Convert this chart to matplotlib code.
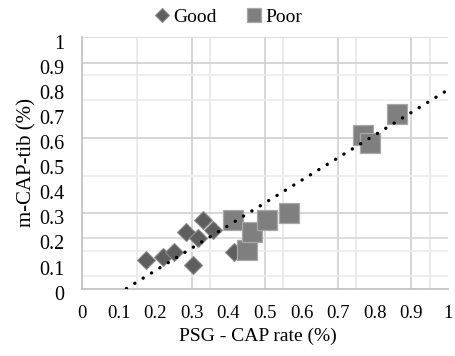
import matplotlib
matplotlib.use("Agg")
import matplotlib.pyplot as plt
import matplotlib.transforms as mtransforms
import numpy as np

plt.rcParams['font.family'] = ['Liberation Serif', 'DejaVu Serif']

# Data
good_x = [0.175, 0.22, 0.252, 0.284, 0.302, 0.316, 0.330, 0.357, 0.416]
good_y = [0.113, 0.126, 0.147, 0.226, 0.094, 0.200, 0.273, 0.233, 0.144]
poor_x = [0.412, 0.450, 0.464, 0.505, 0.567, 0.768, 0.788, 0.861]
poor_y = [0.273, 0.153, 0.224, 0.273, 0.300, 0.612, 0.581, 0.695]
trend_slope = 0.90
trend_intercept = -0.109
ticks = [0, 0.1, 0.2, 0.3, 0.4, 0.5, 0.6, 0.7, 0.8, 0.9, 1]
tick_labels = ['0', '0.1', '0.2', '0.3', '0.4', '0.5', '0.6', '0.7', '0.8', '0.9', '1']

fig = plt.figure(figsize=(4.56, 3.56), dpi=100)
ax = fig.add_axes([0.18, 0.1896, 0.802, 0.7051])

# gridlines (as they appear in the reference)
vgrid_dark = [0.3, 0.5, 0.7, 0.9]
vgrid_light = [0.15, 0.35, 0.55, 0.75, 0.95]
hgrid_dark = [0.3, 0.6, 0.9]
hgrid_mid = [0.2, 1.0]
hgrid_light = [0.05, 0.15, 0.45, 0.75, 0.85]
for v in vgrid_dark:
    ax.axvline(v, color='#d0d0d0', lw=1.2, zorder=0)
for v in vgrid_light:
    ax.axvline(v, color='#e8e8e8', lw=1.2, zorder=0)
for h in hgrid_dark:
    ax.axhline(h, color='#d0d0d0', lw=1.2, zorder=0)
for h in hgrid_mid:
    ax.axhline(h, color='#d8d8d8', lw=1.2, zorder=0)
for h in hgrid_light:
    ax.axhline(h, color='#ececec', lw=1.2, zorder=0)

# trendline
x0 = -trend_intercept / trend_slope
xs = np.array([x0, 1.0])
ax.plot(xs, trend_slope * xs + trend_intercept, color='black', lw=2.4,
        linestyle=(0, (0.05, 2.9)), dash_capstyle='round', zorder=4)

ax.plot(good_x, good_y, linestyle='none', marker='D', markersize=9,
        markerfacecolor='#5e5e5e', markeredgecolor='#8c8c8c', markeredgewidth=0.8,
        label='Good', zorder=3)
ax.plot(poor_x, poor_y, linestyle='none', marker='s', markersize=14,
        markerfacecolor='#7f7f7f', markeredgecolor='#a8a8a8', markeredgewidth=0.9,
        label='Poor', zorder=3)

ax.set_xlim(0, 1)
ax.set_ylim(0, 1)
ax.set_xticks(ticks)
ax.set_xticklabels(tick_labels)
ax.set_yticks(ticks)
ax.set_yticklabels(tick_labels)
ax.tick_params(axis='both', length=0, colors='black')
ax.tick_params(axis='x', pad=12, labelsize=13.5)
ax.tick_params(axis='y', pad=13, labelsize=14.5)
offset = mtransforms.ScaledTranslation(0, -3 / 72, fig.dpi_scale_trans)
for lbl in ax.get_yticklabels():
    lbl.set_transform(lbl.get_transform() + offset)
for s in ['top', 'right']:
    ax.spines[s].set_visible(False)
for s in ['left', 'bottom']:
    ax.spines[s].set_color('#bfbfbf')
    ax.spines[s].set_linewidth(1.2)

ax.set_xlabel('PSG - CAP rate (%)', fontsize=14, labelpad=4)
ax.xaxis.set_label_coords(0.48, -0.155)
ax.set_ylabel('m-CAP-tib (%)', fontsize=15, labelpad=2)

leg = fig.legend(handles=[ax.lines[-2], ax.lines[-1]], labels=['Good', 'Poor'],
                 loc='center', bbox_to_anchor=(0.5, 0.953), ncol=2, frameon=False,
                 fontsize=14, handlelength=0.8, handletextpad=0.2, columnspacing=1.5,
                 markerscale=0.75)

fig.savefig('out.png', dpi=100)
